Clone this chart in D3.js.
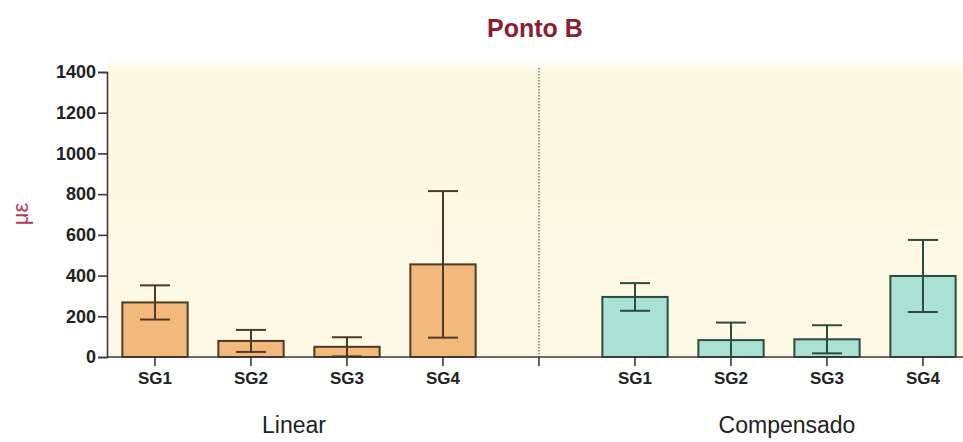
<!DOCTYPE html>
<html>
<head>
<meta charset="utf-8">
<script src="https://cdn.jsdelivr.net/npm/d3@7"></script>
<style>
  body { margin: 0; background: #fff; }
  svg { display: block; font-family: "Liberation Sans", Arial, sans-serif; }
</style>
</head>
<body>
<svg id="chart"></svg>
<script>
// Ponto B - bar chart with error bars, two groups

var width = 963,
    height = 442;

// data
var groups = ["Linear", "Compensado"];
var categories = ["SG1", "SG2", "SG3", "SG4"];
var linearMean = [268, 79, 50, 455];
var linearErr = [84, 54, 47, 360];
var compMean = [295, 83, 87, 398];
var compErr = [68, 86, 69, 177];
var yTicks = [0, 200, 400, 600, 800, 1000, 1200, 1400];

var colors = {
  "Linear": { fill: "#f3b97c", stroke: "#4b3a28" },
  "Compensado": { fill: "#a9e1d5", stroke: "#2f4a40" }
};

// slots along x: 4 linear bars, a divider slot, 4 compensado bars
var slots = [];
categories.forEach(function(c) { slots.push("L-" + c); });
slots.push("gap");
categories.forEach(function(c) { slots.push("C-" + c); });

var rows = [];
categories.forEach(function(c, i) {
  rows.push({ group: "Linear", cat: c, key: "L-" + c, mean: linearMean[i], err: linearErr[i] });
});
categories.forEach(function(c, i) {
  rows.push({ group: "Compensado", cat: c, key: "C-" + c, mean: compMean[i], err: compErr[i] });
});

var m = { left: 107, right: 971, top: 72, bottom: 357 };

var x = d3.scaleBand()
    .domain(slots)
    .range([m.left, m.right])
    .paddingInner(0.32)
    .paddingOuter(0.16);

var y = d3.scaleLinear()
    .domain([0, 1400])
    .range([m.bottom, m.top]);

var svg = d3.select("#chart")
    .attr("width", width)
    .attr("height", height);

// plot background, fades in from white at the top
var defs = svg.append("defs");
var grad = defs.append("linearGradient")
    .attr("id", "bg")
    .attr("x1", 0).attr("y1", 0).attr("x2", 0).attr("y2", 1);
grad.append("stop").attr("offset", "0%").attr("stop-color", "#ffffff");
grad.append("stop").attr("offset", "6%").attr("stop-color", "#fdf8e1");
grad.append("stop").attr("offset", "100%").attr("stop-color", "#fdf9e5");

svg.append("rect")
    .attr("x", m.left)
    .attr("y", m.top - 16)
    .attr("width", width - m.left)
    .attr("height", m.bottom - m.top + 16)
    .attr("fill", "url(#bg)");

// divider between the two groups
svg.append("line")
    .attr("x1", x("gap") + x.bandwidth() / 2)
    .attr("x2", x("gap") + x.bandwidth() / 2)
    .attr("y1", m.top - 4)
    .attr("y2", m.bottom)
    .attr("stroke", "#555")
    .attr("stroke-width", 1.2)
    .attr("stroke-dasharray", "1.5,1.5");

// bars
svg.selectAll(".bar")
    .data(rows)
    .enter().append("rect")
    .attr("class", "bar")
    .attr("x", function(d) { return x(d.key); })
    .attr("y", function(d) { return y(d.mean); })
    .attr("width", x.bandwidth())
    .attr("height", function(d) { return y(0) - y(d.mean); })
    .attr("fill", function(d) { return colors[d.group].fill; })
    .attr("stroke", function(d) { return colors[d.group].stroke; })
    .attr("stroke-width", 2);

// error bars
var eb = svg.selectAll(".err")
    .data(rows)
    .enter().append("g")
    .attr("class", "err")
    .attr("stroke", function(d) { return colors[d.group].stroke; })
    .attr("stroke-width", 2);

var cap = 15;
eb.append("line")
    .attr("x1", function(d) { return x(d.key) + x.bandwidth() / 2; })
    .attr("x2", function(d) { return x(d.key) + x.bandwidth() / 2; })
    .attr("y1", function(d) { return y(Math.max(0, d.mean - d.err)); })
    .attr("y2", function(d) { return y(d.mean + d.err); });
eb.append("line")
    .attr("x1", function(d) { return x(d.key) + x.bandwidth() / 2 - cap; })
    .attr("x2", function(d) { return x(d.key) + x.bandwidth() / 2 + cap; })
    .attr("y1", function(d) { return y(d.mean + d.err); })
    .attr("y2", function(d) { return y(d.mean + d.err); });
eb.filter(function(d) { return d.mean - d.err > 0; })
    .append("line")
    .attr("x1", function(d) { return x(d.key) + x.bandwidth() / 2 - cap; })
    .attr("x2", function(d) { return x(d.key) + x.bandwidth() / 2 + cap; })
    .attr("y1", function(d) { return y(d.mean - d.err); })
    .attr("y2", function(d) { return y(d.mean - d.err); });

// y axis
var yAxis = svg.append("g")
    .attr("transform", "translate(" + m.left + ",0)")
    .call(d3.axisLeft(y).tickValues(yTicks).tickSize(9).tickPadding(2).tickFormat(d3.format("d")));
yAxis.selectAll("path, line").attr("stroke", "#3a3a3a").attr("stroke-width", 1.6);
yAxis.selectAll("text")
    .attr("fill", "#222")
    .style("font-size", "18px")
    .style("font-weight", "bold")
    .style("font-family", "'Liberation Sans', Arial, sans-serif");

// x axis
var xAxis = svg.append("g")
    .attr("transform", "translate(0," + m.bottom + ")")
    .call(d3.axisBottom(x)
      .tickSize(9)
      .tickPadding(6)
      .tickFormat(function(d) { return d == "gap" ? "" : d.slice(2); }));
xAxis.select(".domain").remove();
xAxis.append("line")
    .attr("x1", m.left).attr("x2", width)
    .attr("y1", 0).attr("y2", 0);
xAxis.selectAll("line").attr("stroke", "#3a3a3a").attr("stroke-width", 1.6);
xAxis.selectAll("text")
    .attr("fill", "#222")
    .style("font-size", "17px")
    .style("font-weight", "bold")
    .style("font-family", "'Liberation Sans', Arial, sans-serif");

// group labels
svg.selectAll(".group-label")
    .data(groups)
    .enter().append("text")
    .attr("class", "group-label")
    .attr("x", function(g, i) {
      var a = i == 0 ? "L-" : "C-";
      return (x(a + "SG2") + x(a + "SG3") + x.bandwidth()) / 2 + (i == 0 ? -5 : 8);
    })
    .attr("y", 433)
    .attr("text-anchor", "middle")
    .attr("fill", "#222")
    .style("font-size", "23px")
    .text(String);

// title
svg.append("text")
    .attr("x", 535)
    .attr("y", 37)
    .attr("text-anchor", "middle")
    .attr("fill", "#8c1c30")
    .style("font-size", "25px")
    .style("font-weight", "bold")
    .text("Ponto B");

// y label
svg.append("text")
    .attr("transform", "translate(28,214) rotate(-90)")
    .attr("text-anchor", "middle")
    .attr("fill", "#b8385a")
    .style("font-size", "22px")
    .text("με");
</script>
</body>
</html>
